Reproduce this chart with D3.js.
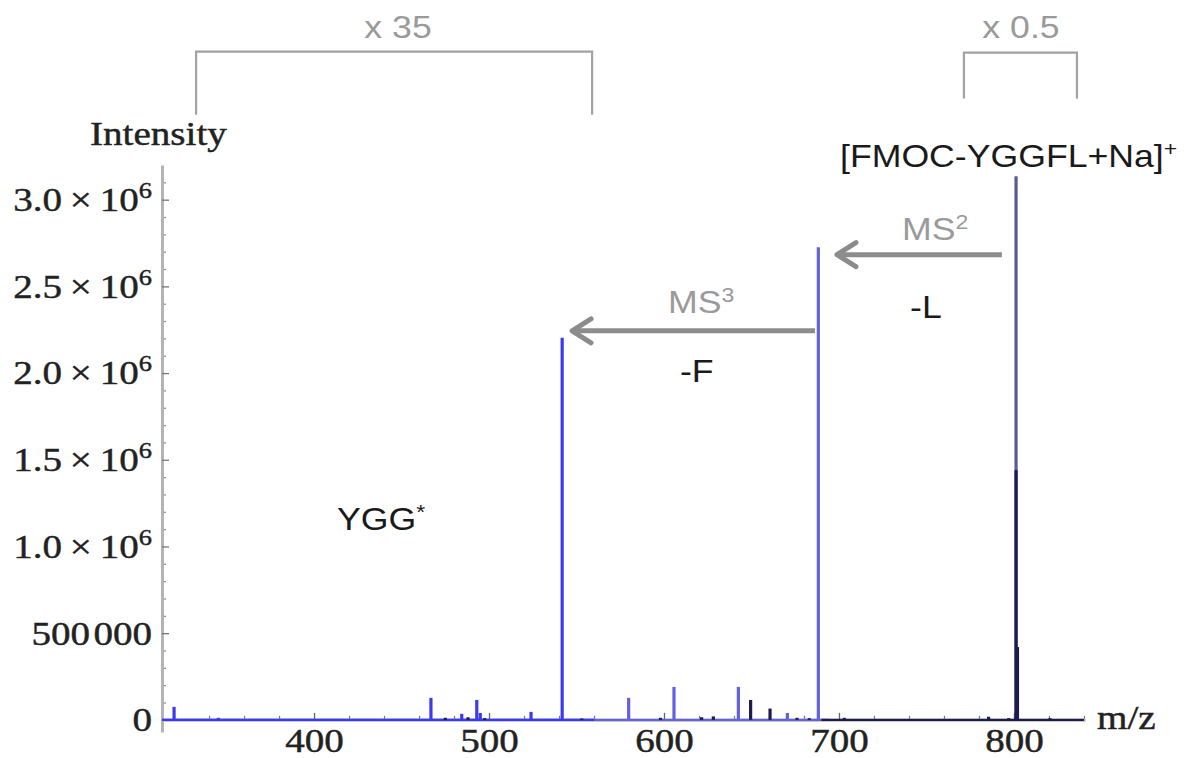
<!DOCTYPE html>
<html>
<head>
<meta charset="utf-8">
<script src="https://cdn.jsdelivr.net/npm/d3@7"></script>
<style>
  html, body { margin: 0; padding: 0; background: #fff; }
  svg { display: block; }
</style>
</head>
<body>
<svg id="chart" width="1188" height="758"></svg>
<script>
// ---- spectrum data (m/z, intensity) ----
// MS3 scan (fragments of the MS2 product)
const ms3Mz  = [320.0, 345.3, 466.8, 484.4, 493.0, 495.0, 524.0, 541.8];
const ms3Int = [75000, 12000, 127000, 35000, 115000, 40000, 46000, 2204000];
const ms3Range = [313.1, 560];

// MS2 scan
const ms2Mz  = [579.8, 605.7, 642.5, 670.5, 688.2];
const ms2Int = [127000, 190000, 190000, 40000, 2725000];
const ms2Range = [313.1, 695];

// precursor scan
const ms1Mz  = [801.2];
const ms1Int = [3135000];

// low-level background ions
const bgMz  = [475.0, 488.0, 497.5, 553.0, 598.0, 621.5, 628.2, 649.5, 660.6, 676.0, 683.0, 703.0, 785.5, 797.0, 801.2, 802.0, 820.6];
const bgInt = [12000, 15000, 10000, 8000, 12000, 15000, 20000, 115000, 65000, 12000, 10000, 12000, 18000, 10000, 1440000, 420000, 10000];
const bgRange = [690, 840];

// axis ticks
const xMajorTicks = [400, 500, 600, 700, 800];
const xMinorTicks = [320, 340, 360, 380, 420, 440, 460, 480, 520, 540, 560, 580, 620, 640, 660, 680, 720, 740, 760, 780, 820, 840];
const yMajorTicks = [0, 500000, 1000000, 1500000, 2000000, 2500000, 3000000];
const yTickLabels = ["0", "500\u200A000", "1.0\u2009\u00d7\u200910^6", "1.5\u2009\u00d7\u200910^6", "2.0\u2009\u00d7\u200910^6", "2.5\u2009\u00d7\u200910^6", "3.0\u2009\u00d7\u200910^6"];
const yMinorTicks = [100000, 200000, 300000, 400000, 600000, 700000, 800000, 900000,
  1100000, 1200000, 1300000, 1400000, 1600000, 1700000, 1800000, 1900000,
  2100000, 2200000, 2300000, 2400000, 2600000, 2700000, 2800000, 2900000, 3100000];

// ---- layout ----
const svg = d3.select("#chart");
const x = d3.scaleLinear().domain([313.1, 840.6]).range([162, 1085]);
const y = d3.scaleLinear().domain([-70000, 3200000]).range([732, 165]);
const STRETCH = 1.15;
const SERIF = "'Liberation Serif', 'Times New Roman', Times, serif";
const SANS = "'Liberation Sans', Arial, Helvetica, sans-serif";
const INK = "#222";
const x0 = x.range()[0];

// ---- y axis ----
const gyMinor = svg.append("g")
  .attr("transform", `translate(${x0},0)`)
  .call(d3.axisLeft(y).tickValues(yMinorTicks).tickSizeInner(-4).tickSizeOuter(0).tickFormat(""));
gyMinor.select(".domain").remove();
gyMinor.selectAll(".tick line").attr("stroke", "#8a8a8a").attr("stroke-width", 1.2);

const gy = svg.append("g")
  .attr("transform", `translate(${x0},0)`)
  .call(d3.axisLeft(y).tickValues(yMajorTicks).tickSizeInner(-7).tickSizeOuter(0)
    .tickPadding(10).tickFormat((d, i) => yTickLabels[i]));
gy.attr("font-family", SERIF).attr("font-size", 34);
gy.select(".domain").attr("stroke", "#b4b4b4").attr("stroke-width", 3);
gy.selectAll(".tick line").attr("stroke", "#777").attr("stroke-width", 1.3);
gy.selectAll(".tick text")
  .attr("fill", INK).attr("stroke", INK).attr("stroke-width", 0.45)
  .attr("x", -10 / STRETCH)
  .attr("transform", `scale(${STRETCH},1)`)
  .each(function () {
    const t = d3.select(this);
    const s = t.text();
    if (s.includes("^")) {
      const [base, exp] = s.split("^");
      t.text(null);
      t.append("tspan").text(base);
      t.append("tspan").attr("dy", "-13").attr("font-size", 23).text(exp);
    }
  });

// ---- x axis ----
const gxMinor = svg.append("g")
  .attr("transform", `translate(0,${y(0)})`)
  .call(d3.axisBottom(x).tickValues(xMinorTicks).tickSizeInner(-4).tickSizeOuter(0).tickFormat(""));
gxMinor.select(".domain").remove();
gxMinor.selectAll(".tick line").attr("stroke", "#777").attr("stroke-width", 1.2);

const gx = svg.append("g")
  .attr("transform", `translate(0,${y(0)})`)
  .call(d3.axisBottom(x).tickValues(xMajorTicks).tickSizeInner(-7).tickSizeOuter(0)
    .tickPadding(8).tickFormat(d3.format("d")));
gx.attr("font-family", SERIF).attr("font-size", 34);
gx.select(".domain").attr("stroke", "#b4b4b4").attr("stroke-width", 3);
gx.selectAll(".tick line").attr("stroke", "#666").attr("stroke-width", 1.3);
gx.selectAll(".tick text")
  .attr("fill", INK).attr("stroke", INK).attr("stroke-width", 0.45)
  .attr("transform", `scale(${STRETCH},1)`);

// axis titles
svg.append("text")
  .attr("transform", `translate(${x0 - 72},${y.range()[1] - 20}) scale(${STRETCH},1)`)
  .attr("font-family", SERIF).attr("font-size", 34)
  .attr("fill", INK).attr("stroke", INK).attr("stroke-width", 0.45)
  .text("Intensity");
svg.append("text")
  .attr("transform", `translate(${x.range()[1] + 12},${y(0) + 9}) scale(${STRETCH},1)`)
  .attr("font-family", SERIF).attr("font-size", 34)
  .attr("fill", INK).attr("stroke", INK).attr("stroke-width", 0.45)
  .text("m/z");

// ---- spectra ----
const spectra = [
  { mz: ms2Mz, inten: ms2Int, range: ms2Range, color: "#6262dc" },
  { mz: ms3Mz, inten: ms3Int, range: ms3Range, color: "#3a3af2" },
  { mz: ms1Mz, inten: ms1Int, range: null, color: "#5a5a90" },
  { mz: bgMz, inten: bgInt, range: bgRange, color: "#1c1c4e" }
];

const gs = svg.append("g");
spectra.forEach(s => {
  const g = gs.append("g").attr("stroke", s.color).attr("fill", "none");
  if (s.range) {
    g.append("line")
      .attr("x1", x(s.range[0])).attr("x2", x(s.range[1]))
      .attr("y1", y(0)).attr("y2", y(0))
      .attr("stroke-width", 2.4);
  }
  g.selectAll("line.peak")
    .data(d3.zip(s.mz, s.inten))
    .join("line")
    .attr("class", "peak")
    .attr("x1", d => x(d[0])).attr("x2", d => x(d[0]))
    .attr("y1", y(0)).attr("y2", d => y(d[1]))
    .attr("stroke-width", 3.2);
});

// ---- annotations ----
const ann = svg.append("g");
const GREY = "#9a9a9a";

function label(parts, px, py, opts) {
  const t = ann.append("text")
    .attr("transform", `translate(${px},${py}) scale(${STRETCH},1)`)
    .attr("font-family", SANS)
    .attr("font-size", opts.size || 31)
    .attr("fill", opts.color || "#1a1a1a")
    .attr("text-anchor", opts.anchor || "start");
  parts.forEach(p => {
    const ts = t.append("tspan").text(p.t);
    if (p.sup) ts.attr("font-size", 20).attr("dy", -11);
  });
  return t;
}

function bracket(mzA, mzB, top, bottom) {
  ann.append("path")
    .attr("d", `M${x(mzA)},${y(bottom)}V${y(top)}H${x(mzB)}V${y(bottom)}`)
    .attr("fill", "none").attr("stroke", "#a2a2a2").attr("stroke-width", 2.2);
}

function arrow(mzFrom, mzTo, inten) {
  const xa = x(mzFrom), xb = x(mzTo), yy = y(inten);
  ann.append("line")
    .attr("x1", xa).attr("x2", xb + 2).attr("y1", yy).attr("y2", yy)
    .attr("stroke", "#8c8c8c").attr("stroke-width", 5);
  ann.append("path")
    .attr("d", `M${xb + 21},${yy - 12}L${xb + 2},${yy}L${xb + 21},${yy + 12}`)
    .attr("fill", "none").attr("stroke", "#8c8c8c").attr("stroke-width", 5)
    .attr("stroke-linecap", "round").attr("stroke-linejoin", "round");
}

// scale factor brackets
bracket(332.6, 558.9, 3854000, 3490000);
label([{ t: "x 35" }], x(448), y(3935000), { color: GREY, anchor: "middle" });
bracket(771.4, 836.0, 3848000, 3583000);
label([{ t: "x 0.5" }], x(804), y(3935000), { color: GREY, anchor: "middle" });

// precursor ion
label([{ t: "[FMOC-YGGFL+Na]" }, { t: "+", sup: true }], x(700.6), y(3190000), {});

// MS2 step
label([{ t: "MS" }, { t: "2", sup: true }], x(736), y(2769000), { color: GREY });
arrow(793.1, 697.7, 2683000);
label([{ t: "-L" }], x(740.6), y(2319000), {});

// MS3 step
label([{ t: "MS" }, { t: "3", sup: true }], x(602.3), y(2348000), { color: GREY });
arrow(686.3, 546.3, 2244000);
label([{ t: "-F" }], x(609.1), y(1950000), {});

// fragment
label([{ t: "YGG" }, { t: "*", sup: true }], x(413.1), y(1096000), {});
</script>
</body>
</html>
